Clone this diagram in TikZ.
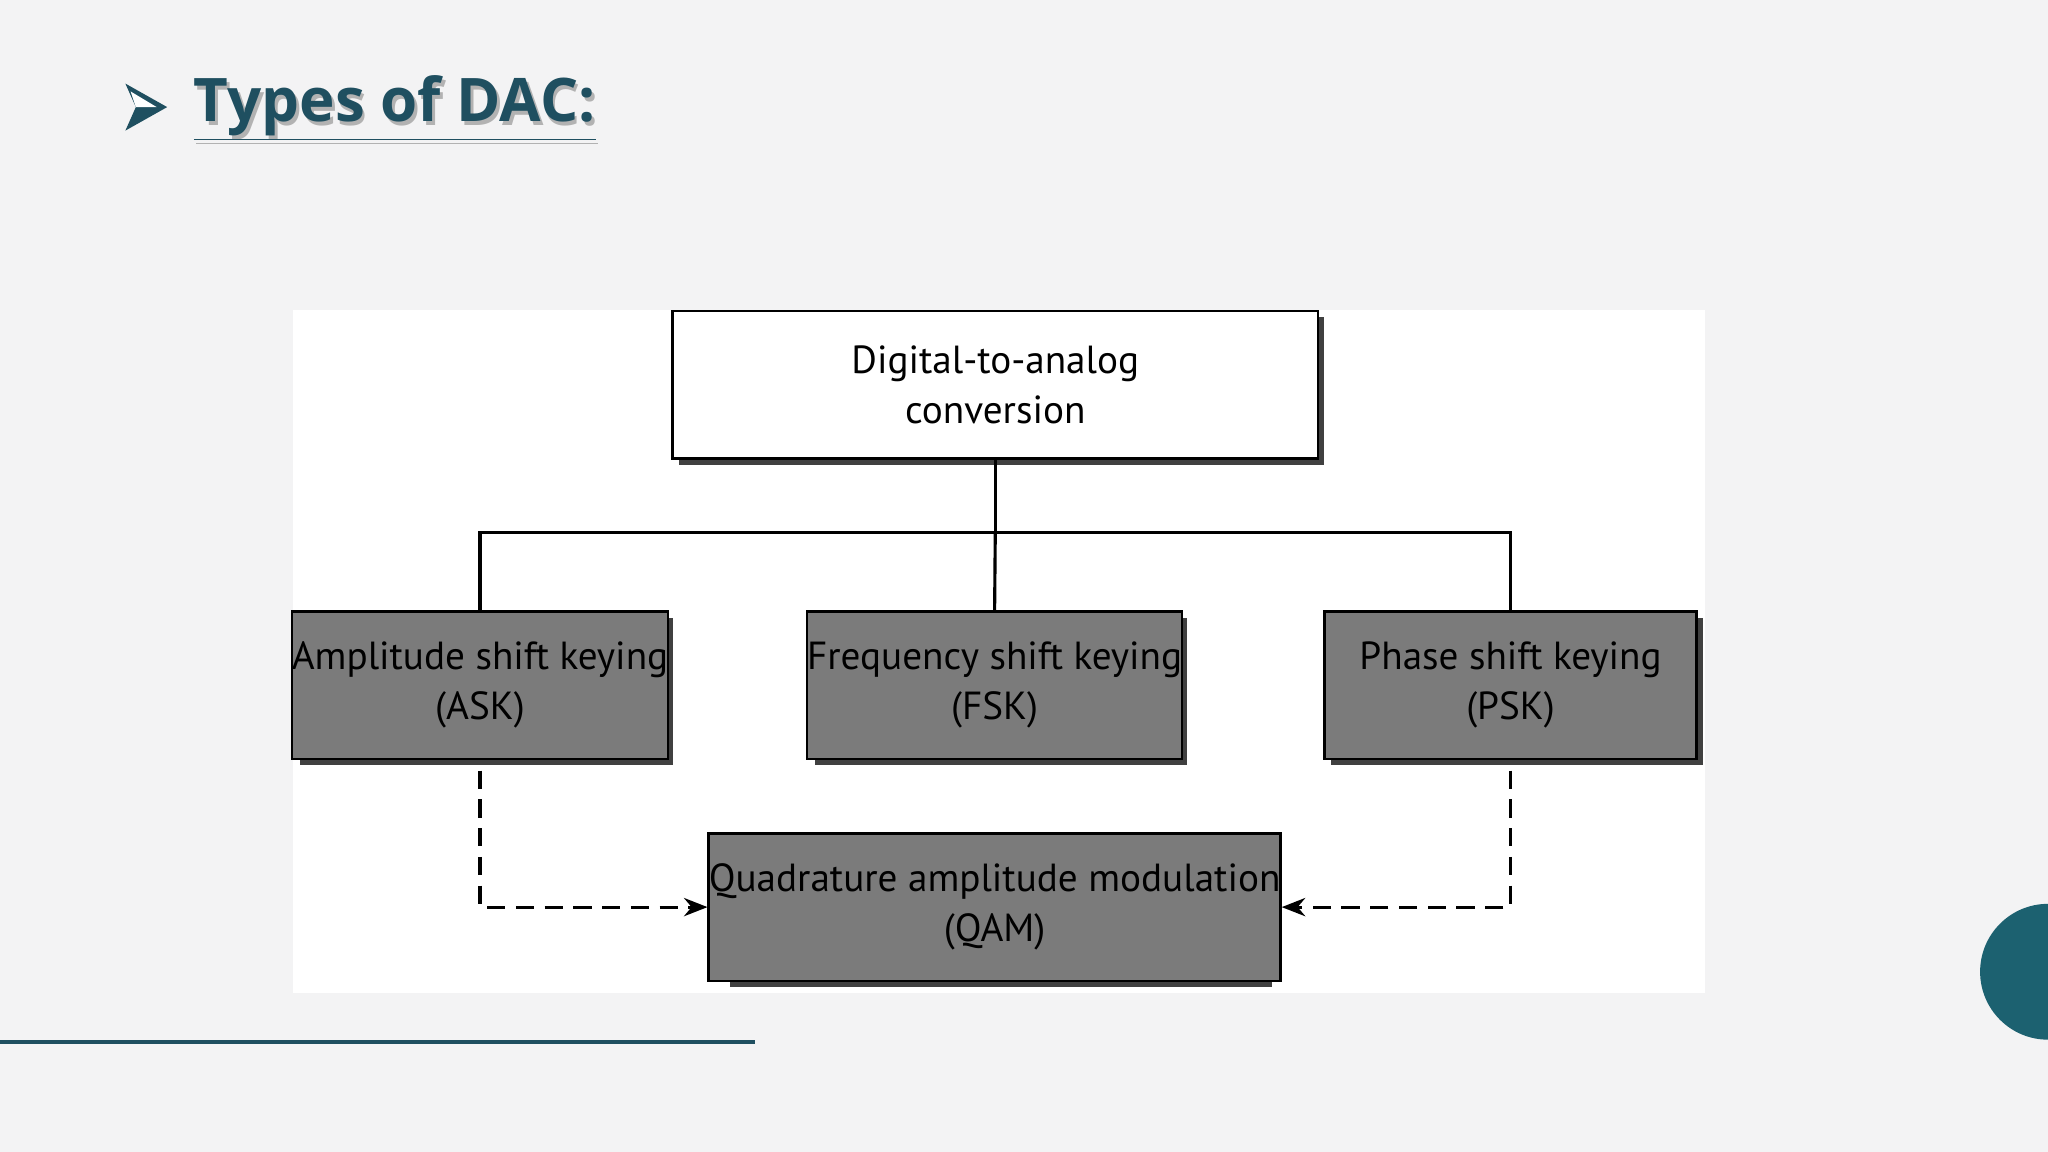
\documentclass[tikz,border=0pt]{standalone}
\usepackage{fontspec}
\setmainfont{PT Sans}
\newfontfamily\titlefont{Open Sans}
\usetikzlibrary{arrows.meta}
\definecolor{bg}{HTML}{F3F3F4}
\definecolor{teal}{HTML}{1F4F60}
\definecolor{boxgray}{HTML}{7B7B7B}
\begin{document}
\begin{tikzpicture}[x=0.5pt,y=-0.5pt,
  box/.style={draw=black,line width=1pt,minimum width=#1*0.5pt,minimum height=113*0.5pt,inner sep=0pt,align=center,font=\fontsize{15}{19}\selectfont},
  sh/.style={fill=black!75,draw=none},
  conn/.style={line width=1.2pt},
  dconn/.style={line width=1.2pt,dash pattern=on 7pt off 4pt,-{Stealth[length=9pt,width=7pt]}}]
\fill[bg] (0,0) rectangle (1568,882);
\useasboundingbox (0,0) rectangle (1568,882);
% title
\fill[teal] (96,64) -- (128,82) -- (96,100) -- (104,82) -- cycle;
\fill[white] (100,70) -- (120,82) -- (104,82) -- cycle;
\node[anchor=west,text=black!30,inner sep=0pt,font=\titlefont\bfseries\fontsize{23}{27}\selectfont] at (150,86) {\underline{Types of DAC:}};
\node[anchor=west,text=teal,inner sep=0pt,font=\titlefont\bfseries\fontsize{23}{27}\selectfont] (title) at (148,83) {\underline{Types of DAC:}};
% panel
\fill[white] (224,237) rectangle (1305,760);
% shadows
\fill[sh] (520,243) rectangle (1014,356);
\fill[sh] (230,473) rectangle (515,586);
\fill[sh] (624,473) rectangle (909,586);
\fill[sh] (1019,473) rectangle (1304,586);
\fill[sh] (559,643) rectangle (974,756);
% boxes
\node[box=494,fill=white] (dac) at (762,294.5) {Digital-to-analog\\conversion};
\node[box=285,fill=boxgray] (ask) at (367.5,524.5) {Amplitude shift keying\\(ASK)};
\node[box=285,fill=boxgray] (fsk) at (761.5,524.5) {Frequency shift keying\\(FSK)};
\node[box=285,fill=boxgray] (psk) at (1156.5,524.5) {Phase shift keying\\(PSK)};
\node[box=415,fill=boxgray] (qam) at (761.5,694.5) {Quadrature amplitude modulation\\(QAM)};
% connectors
\coordinate (j) at (762,408);
\draw[conn] (dac.south) -- (j);
\draw[conn] (ask.north) |- (j) -| (psk.north);
\draw[conn] (j) -- (fsk.north);
\draw[dconn] (ask.south) ++(0,8) |- (qam.west);
\draw[dconn] (psk.south) ++(0,8) |- (qam.east);
% decorations
\draw[teal,line width=1.5pt] (0,798) -- (578,798);
\fill[teal!90!cyan] (1568,744) circle (52);
\end{tikzpicture}
\end{document}
